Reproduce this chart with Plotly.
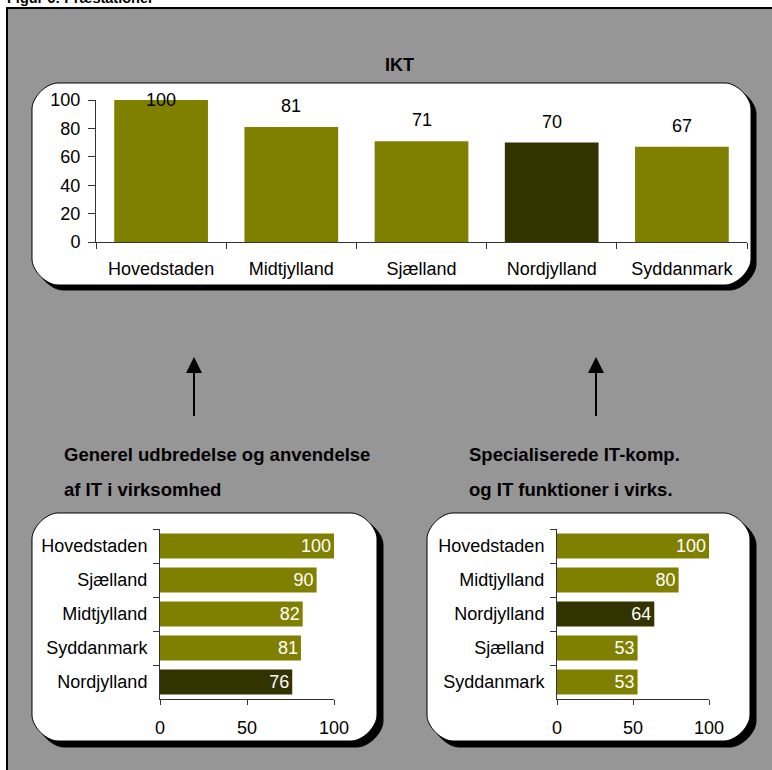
import plotly.graph_objects as go

# ---- data ----
ikt_regions = ["Hovedstaden", "Midtjylland", "Sjælland", "Nordjylland", "Syddanmark"]
ikt_values = [100, 81, 71, 70, 67]

gen_regions = ["Hovedstaden", "Sjælland", "Midtjylland", "Syddanmark", "Nordjylland"]
gen_values = [100, 90, 82, 81, 76]

spec_regions = ["Hovedstaden", "Midtjylland", "Nordjylland", "Sjælland", "Syddanmark"]
spec_values = [100, 80, 64, 53, 53]

axis_ticks = [0, 50, 100]
ikt_yticks = [0, 20, 40, 60, 80, 100]

# ---- styling ----
W, H = 772, 770
OLIVE = "#808000"
DARK = "#333300"
FRAME_BG = "#969696"
FONT = "Arial, Liberation Sans, sans-serif"
HIGHLIGHT = "Nordjylland"


def fx(x):
    return x / W


def fy(y):
    return 1 - y / H


def bar_colors(regions):
    return [DARK if r == HIGHLIGHT else OLIVE for r in regions]


def rounded_rect(x0, y0, x1, y1, r):
    k = 0.45 * r
    pts = [
        ("M", [(x0 + r, y0)]),
        ("L", [(x1 - r, y0)]),
        ("C", [(x1 - r + k, y0), (x1, y0 + r - k), (x1, y0 + r)]),
        ("L", [(x1, y1 - r)]),
        ("C", [(x1, y1 - r + k), (x1 - r + k, y1), (x1 - r, y1)]),
        ("L", [(x0 + r, y1)]),
        ("C", [(x0 + r - k, y1), (x0, y1 - r + k), (x0, y1 - r)]),
        ("L", [(x0, y0 + r)]),
        ("C", [(x0, y0 + r - k), (x0 + r - k, y0), (x0 + r, y0)]),
    ]
    out = []
    for cmd, coords in pts:
        out.append(cmd + " ".join(f"{fx(px):.5f},{fy(py):.5f}" for px, py in coords))
    return " ".join(out) + " Z"


def panel(x0, y0, x1, y1, r=26, off=5):
    return [
        dict(type="path", xref="paper", yref="paper", layer="below",
             path=rounded_rect(x0 + off, y0 + off, x1 + off, y1 + off, r),
             fillcolor="black", line=dict(color="black", width=1)),
        dict(type="path", xref="paper", yref="paper", layer="below",
             path=rounded_rect(x0, y0, x1, y1, r),
             fillcolor="white", line=dict(color="black", width=1)),
    ]


def arrow(x, y_tip, y_tail, head_w=16, head_h=16):
    return [
        dict(type="line", xref="paper", yref="paper",
             x0=fx(x), x1=fx(x), y0=fy(y_tail), y1=fy(y_tip + head_h - 1),
             line=dict(color="black", width=2)),
        dict(type="path", xref="paper", yref="paper",
             path=(f"M{fx(x):.5f},{fy(y_tip):.5f} "
                   f"L{fx(x - head_w / 2):.5f},{fy(y_tip + head_h):.5f} "
                   f"L{fx(x + head_w / 2):.5f},{fy(y_tip + head_h):.5f} Z"),
             fillcolor="black", line=dict(color="black", width=0)),
    ]


fig = go.Figure()

# Top: IKT column chart
fig.add_trace(go.Bar(
    x=ikt_regions, y=ikt_values, width=0.72,
    marker=dict(color=bar_colors(ikt_regions), line=dict(width=0)),
    xaxis="x", yaxis="y", hoverinfo="x+y",
))

# Bottom left: general IT use
fig.add_trace(go.Bar(
    y=gen_regions, x=gen_values, orientation="h", width=0.74,
    marker=dict(color=bar_colors(gen_regions), line=dict(width=0)),
    text=[str(v) for v in gen_values], textposition="inside",
    insidetextanchor="end", textangle=0, constraintext="none",
    textfont=dict(color="white", size=18, family=FONT),
    xaxis="x2", yaxis="y2",
))

# Bottom right: specialised IT competences
fig.add_trace(go.Bar(
    y=spec_regions, x=spec_values, orientation="h", width=0.74,
    marker=dict(color=bar_colors(spec_regions), line=dict(width=0)),
    text=[str(v) for v in spec_values], textposition="inside",
    insidetextanchor="end", textangle=0, constraintext="none",
    textfont=dict(color="white", size=18, family=FONT),
    xaxis="x3", yaxis="y3",
))

axis_line = dict(showline=True, linecolor="#333333", linewidth=1,
                 ticks="outside", tickcolor="#333333", showgrid=False,
                 zeroline=False, automargin=False,
                 tickfont=dict(size=18, color="black", family=FONT),
                 fixedrange=True)

# value labels above the IKT columns (kept inside the plotting area at the top)
PX_PER_UNIT = (242 - 100) / 100
annotations = []
for r, v in zip(ikt_regions, ikt_values):
    annotations.append(dict(
        x=r, y=v, xref="x", yref="y", text=str(v), showarrow=False,
        yshift=min(21, (100 - v) * PX_PER_UNIT),
        font=dict(size=18, color="black", family=FONT),
    ))

# titles
SUB = dict(size=18.5, family=FONT, color="black")
annotations += [
    dict(x=fx(400), y=fy(53), xref="paper", yref="paper", text="<b>IKT</b>",
         showarrow=False, font=dict(size=18, family=FONT, color="black")),
    dict(x=fx(62), y=fy(454), xref="paper", yref="paper", xanchor="left",
         text="<b>Generel udbredelse og anvendelse</b>", showarrow=False, font=SUB),
    dict(x=fx(62), y=fy(489), xref="paper", yref="paper", xanchor="left",
         text="<b>af IT i virksomhed</b>", showarrow=False, font=SUB),
    dict(x=fx(467), y=fy(454), xref="paper", yref="paper", xanchor="left",
         text="<b>Specialiserede IT-komp.</b>", showarrow=False, font=SUB),
    dict(x=fx(467), y=fy(489), xref="paper", yref="paper", xanchor="left",
         text="<b>og IT funktioner i virks.</b>", showarrow=False, font=SUB),
    dict(x=fx(5), y=fy(8), xref="paper", yref="paper", xanchor="left",
         yanchor="bottom", text="<b>Figur 6: Præstationer</b>", showarrow=False,
         font=dict(size=14.5, family=FONT, color="black")),
]

shapes = [
    # outer frame
    dict(type="rect", xref="paper", yref="paper", layer="below",
         x0=fx(6), x1=fx(800), y0=fy(7), y1=fy(800),
         fillcolor="black", line=dict(width=0)),
    dict(type="rect", xref="paper", yref="paper", layer="below",
         x0=fx(8), x1=fx(800), y0=fy(9), y1=fy(800),
         fillcolor=FRAME_BG, line=dict(width=0)),
]
shapes += panel(32, 83, 751, 285)
shapes += panel(32, 513, 377, 741, off=6)
shapes += panel(427, 513, 750, 741, off=6)
shapes += arrow(194, 357, 416)
shapes += arrow(596, 357, 416)

fig.update_layout(
    width=W, height=H, autosize=False,
    margin=dict(l=0, r=0, t=0, b=0, pad=0, autoexpand=False),
    paper_bgcolor="white", plot_bgcolor="rgba(0,0,0,0)",
    showlegend=False, bargap=0.27,
    font=dict(family=FONT, size=18, color="black"),
    shapes=shapes, annotations=annotations,
    xaxis=dict(axis_line, domain=[fx(96), fx(747)], type="category",
               tickson="boundaries", ticklen=6, ticklabelstandoff=10,
               categoryorder="array", categoryarray=ikt_regions),
    yaxis=dict(axis_line, domain=[fy(242), fy(100)], range=[0, 100],
               tickvals=ikt_yticks, ticklen=7, ticklabelstandoff=4, anchor="x"),
    xaxis2=dict(axis_line, domain=[fx(160), fx(334)], range=[0, 100],
                tickvals=axis_ticks, ticklen=5, ticklabelstandoff=7,
                anchor="y2"),
    yaxis2=dict(axis_line, domain=[fy(699), fy(529)], type="category",
                tickson="boundaries", ticklen=6, ticklabelstandoff=8,
                autorange="reversed",
                categoryorder="array", categoryarray=gen_regions, anchor="x2"),
    xaxis3=dict(axis_line, domain=[fx(557), fx(709)], range=[0, 100],
                tickvals=axis_ticks, ticklen=5, ticklabelstandoff=7,
                anchor="y3"),
    yaxis3=dict(axis_line, domain=[fy(699), fy(529)], type="category",
                tickson="boundaries", ticklen=6, ticklabelstandoff=8,
                autorange="reversed",
                categoryorder="array", categoryarray=spec_regions, anchor="x3"),
)

fig.write_html(
    "out.html",
    post_script="document.body.style.margin='0';document.body.style.overflow='hidden';",
)
